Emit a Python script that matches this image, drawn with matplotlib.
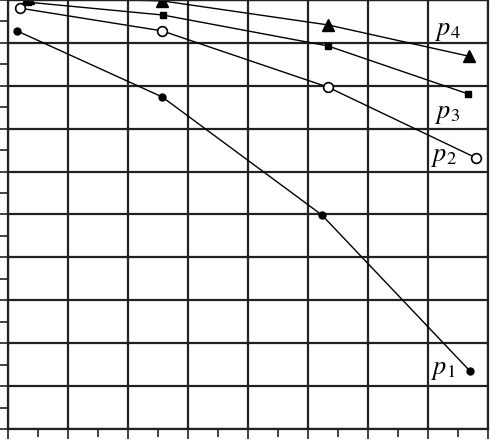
import numpy as np
import matplotlib.pyplot as plt
from matplotlib.ticker import MultipleLocator

plt.rcParams['mathtext.fontset'] = 'stix'

# values (x: 0..8, y: 0..10 grid units)
x_p1 = [0.15, 2.57, 5.23, 7.70]
y_p1 = [9.28, 7.74, 4.99, 1.35]

x_p2 = [0.20, 2.57, 5.33, 7.80]
y_p2 = [9.81, 9.28, 7.97, 6.32]

x_p3 = [0.33, 2.58, 5.33, 7.67]
y_p3 = [9.95, 9.65, 8.93, 7.81]

x_p4 = [0.33, 2.57, 5.33, 7.68]
y_p4 = [10.05, 9.98, 9.42, 8.69]

labels = ['$p_1$', '$p_2$', '$p_3$', '$p_4$']
label_pos = [(7.05, 1.40), (7.05, 6.36), (7.12, 7.36), (7.12, 9.3)]

fig = plt.figure(figsize=(4.9, 4.43), dpi=100)
ax = fig.add_axes([8 / 490, 14 / 443, 480 / 490, 429 / 443])

ax.plot(x_p1, y_p1, color='black', lw=1.0, marker='o', ms=5, mfc='black', clip_on=False)
ax.plot(x_p2, y_p2, color='black', lw=1.0, marker='o', ms=7, mfc='white', mew=1.2, clip_on=False)
ax.plot(x_p3, y_p3, color='black', lw=1.0, marker='s', ms=5, mfc='black', clip_on=False)
ax.plot(x_p4, y_p4, color='black', lw=1.0, marker='^', ms=8, mfc='black', clip_on=False)

for lab, (lx, ly) in zip(labels, label_pos):
    ax.text(lx, ly, lab, fontsize=19, va='center', ha='left')

ax.set_xlim(0, 8)
ax.set_ylim(0, 10)
ax.xaxis.set_major_locator(MultipleLocator(1))
ax.xaxis.set_minor_locator(MultipleLocator(0.5))
ax.yaxis.set_major_locator(MultipleLocator(1))
ax.yaxis.set_minor_locator(MultipleLocator(0.5))
ax.set_xticklabels([])
ax.set_yticklabels([])
ax.tick_params(which='major', length=7, width=1.2, color='#222222')
ax.tick_params(which='minor', length=5.5, width=1.2, color='#222222')
ax.grid(True, which='major', color='#222222', lw=1.6)
for s in ax.spines.values():
    s.set_color('#222222')
    s.set_linewidth(1.6)

fig.savefig('out.png', dpi=100)
